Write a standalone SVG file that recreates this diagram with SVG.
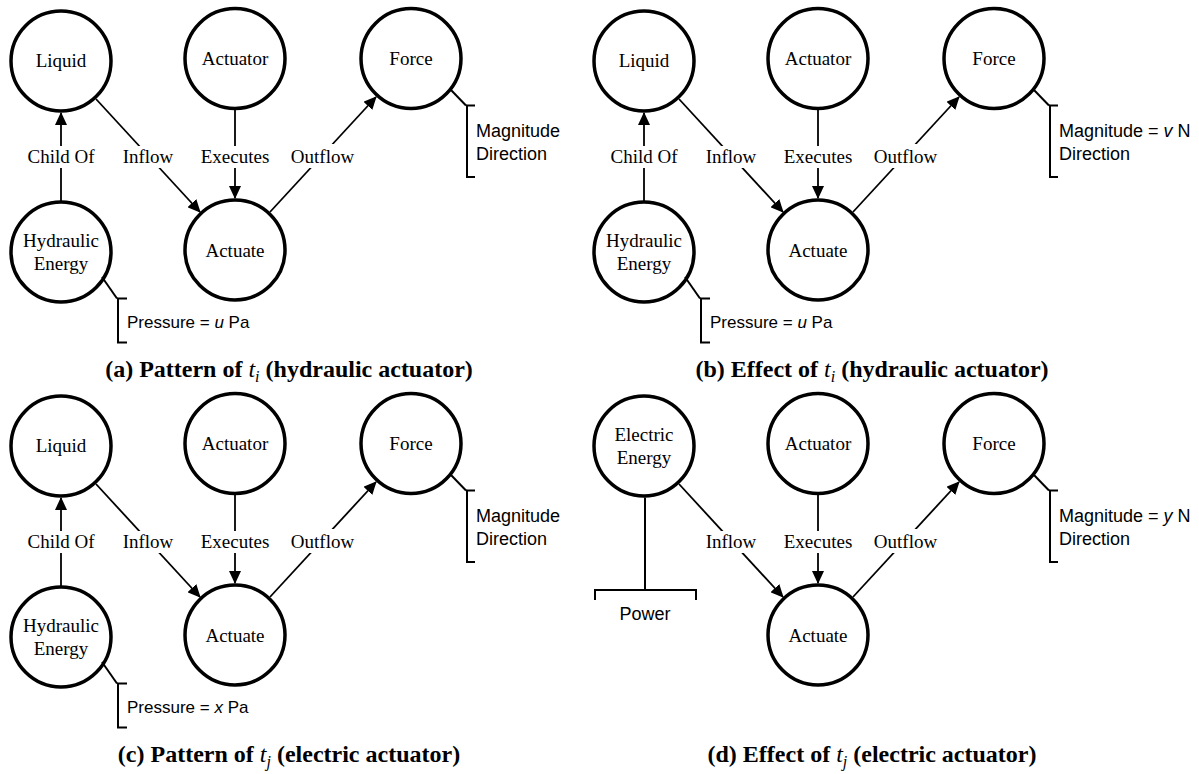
<svg xmlns="http://www.w3.org/2000/svg" width="1199" height="774" viewBox="0 0 1199 774">
<style>
.node circle{fill:#fff;stroke:#000;stroke-width:3.5}
.nl{font-family:"Liberation Serif","Times New Roman",serif;font-size:19px;text-anchor:middle;fill:#000}
.edge{stroke:#000;stroke-width:1.8;fill:none}
.lb{fill:#fff;stroke:none}
.br{stroke:#000;stroke-width:2;fill:none}
.bt{font-family:"Liberation Sans",Arial,sans-serif;font-size:18px;fill:#000}
.pt{font-family:"Liberation Sans",Arial,sans-serif;font-size:17px;fill:#000}
.cap{font-family:"Liberation Serif","Times New Roman",serif;font-size:24px;font-weight:bold;text-anchor:middle;fill:#000}
.mi{font-style:italic;font-weight:normal}
</style>
<defs>
<marker id="arr" markerUnits="userSpaceOnUse" markerWidth="13" markerHeight="12" refX="12" refY="6" orient="auto">
<path d="M0,0 L13,6 L0,12 z" fill="#000"/>
</marker>
</defs>

<!-- Panel (a) -->
<g id="panel-a">
<g id="a-connectors">
<line class="edge" x1="61" y1="201" x2="61" y2="113" marker-end="url(#arr)"/>
<line class="edge" x1="96" y1="99" x2="200" y2="212" marker-end="url(#arr)"/>
<line class="edge" x1="235" y1="110" x2="235" y2="198" marker-end="url(#arr)"/>
<line class="edge" x1="270" y1="212" x2="376" y2="97" marker-end="url(#arr)"/>
<rect class="lb" x="25" y="146" width="72" height="22"/><text class="nl" x="61" y="162.5">Child Of</text>
<rect class="lb" x="121" y="146" width="54" height="22"/><text class="nl" x="148" y="162.5">Inflow</text>
<rect class="lb" x="199" y="146" width="72" height="22"/><text class="nl" x="235" y="162.5">Executes</text>
<rect class="lb" x="289" y="144" width="67" height="24"/><text class="nl" x="322.5" y="162.5">Outflow</text>
</g>
<g id="a-liquid" class="node"><circle cx="61" cy="61" r="50"/><text class="nl" x="61" y="67">Liquid</text></g>
<g id="a-actuator" class="node"><circle cx="235" cy="58.5" r="50"/><text class="nl" x="235" y="65">Actuator</text></g>
<g id="a-force" class="node"><circle cx="411" cy="58.5" r="50"/><text class="nl" x="411" y="65">Force</text>
<line class="br" x1="451" y1="90" x2="466" y2="105.5"/><path class="br" d="M475,105.5 H467 V177 H475"/>
<text class="bt" x="476" y="137">Magnitude</text><text class="bt" x="476" y="160">Direction</text></g>
<g id="a-actuate" class="node"><circle cx="235" cy="250" r="50"/><text class="nl" x="235" y="256.5">Actuate</text></g>
<g id="a-hydraulic" class="node"><circle cx="61" cy="252" r="50"/><text class="nl" x="61" y="247">Hydraulic</text><text class="nl" x="61" y="270">Energy</text>
<line class="br" x1="102" y1="277" x2="117" y2="298.5"/><path class="br" d="M127,298.5 H118 V342.5 H127"/>
<text class="pt" x="127" y="328">Pressure = <tspan font-style="italic">u</tspan> Pa</text></g>
</g>

<!-- Panel (b) -->
<g id="panel-b" transform="translate(583,0)">
<g id="b-connectors">
<line class="edge" x1="61" y1="201" x2="61" y2="113" marker-end="url(#arr)"/>
<line class="edge" x1="96" y1="99" x2="200" y2="212" marker-end="url(#arr)"/>
<line class="edge" x1="235" y1="110" x2="235" y2="198" marker-end="url(#arr)"/>
<line class="edge" x1="270" y1="212" x2="376" y2="97" marker-end="url(#arr)"/>
<rect class="lb" x="25" y="146" width="72" height="22"/><text class="nl" x="61" y="162.5">Child Of</text>
<rect class="lb" x="121" y="146" width="54" height="22"/><text class="nl" x="148" y="162.5">Inflow</text>
<rect class="lb" x="199" y="146" width="72" height="22"/><text class="nl" x="235" y="162.5">Executes</text>
<rect class="lb" x="289" y="144" width="67" height="24"/><text class="nl" x="322.5" y="162.5">Outflow</text>
</g>
<g id="b-liquid" class="node"><circle cx="61" cy="61" r="50"/><text class="nl" x="61" y="67">Liquid</text></g>
<g id="b-actuator" class="node"><circle cx="235" cy="58.5" r="50"/><text class="nl" x="235" y="65">Actuator</text></g>
<g id="b-force" class="node"><circle cx="411" cy="58.5" r="50"/><text class="nl" x="411" y="65">Force</text>
<line class="br" x1="451" y1="90" x2="466" y2="105.5"/><path class="br" d="M475,105.5 H467 V177 H475"/>
<text class="bt" x="476" y="137">Magnitude = <tspan font-style="italic">v</tspan> N</text><text class="bt" x="476" y="160">Direction</text></g>
<g id="b-actuate" class="node"><circle cx="235" cy="250" r="50"/><text class="nl" x="235" y="256.5">Actuate</text></g>
<g id="b-hydraulic" class="node"><circle cx="61" cy="252" r="50"/><text class="nl" x="61" y="247">Hydraulic</text><text class="nl" x="61" y="270">Energy</text>
<line class="br" x1="102" y1="277" x2="117" y2="298.5"/><path class="br" d="M127,298.5 H118 V342.5 H127"/>
<text class="pt" x="127" y="328">Pressure = <tspan font-style="italic">u</tspan> Pa</text></g>
</g>

<!-- Panel (c) -->
<g id="panel-c" transform="translate(0,385)">
<g id="c-connectors">
<line class="edge" x1="61" y1="201" x2="61" y2="113" marker-end="url(#arr)"/>
<line class="edge" x1="96" y1="99" x2="200" y2="212" marker-end="url(#arr)"/>
<line class="edge" x1="235" y1="110" x2="235" y2="198" marker-end="url(#arr)"/>
<line class="edge" x1="270" y1="212" x2="376" y2="97" marker-end="url(#arr)"/>
<rect class="lb" x="25" y="146" width="72" height="22"/><text class="nl" x="61" y="162.5">Child Of</text>
<rect class="lb" x="121" y="146" width="54" height="22"/><text class="nl" x="148" y="162.5">Inflow</text>
<rect class="lb" x="199" y="146" width="72" height="22"/><text class="nl" x="235" y="162.5">Executes</text>
<rect class="lb" x="289" y="144" width="67" height="24"/><text class="nl" x="322.5" y="162.5">Outflow</text>
</g>
<g id="c-liquid" class="node"><circle cx="61" cy="61" r="50"/><text class="nl" x="61" y="67">Liquid</text></g>
<g id="c-actuator" class="node"><circle cx="235" cy="58.5" r="50"/><text class="nl" x="235" y="65">Actuator</text></g>
<g id="c-force" class="node"><circle cx="411" cy="58.5" r="50"/><text class="nl" x="411" y="65">Force</text>
<line class="br" x1="451" y1="90" x2="466" y2="105.5"/><path class="br" d="M475,105.5 H467 V177 H475"/>
<text class="bt" x="476" y="137">Magnitude</text><text class="bt" x="476" y="160">Direction</text></g>
<g id="c-actuate" class="node"><circle cx="235" cy="250" r="50"/><text class="nl" x="235" y="256.5">Actuate</text></g>
<g id="c-hydraulic" class="node"><circle cx="61" cy="252" r="50"/><text class="nl" x="61" y="247">Hydraulic</text><text class="nl" x="61" y="270">Energy</text>
<line class="br" x1="102" y1="277" x2="117" y2="298.5"/><path class="br" d="M127,298.5 H118 V342.5 H127"/>
<text class="pt" x="127" y="328">Pressure = <tspan font-style="italic">x</tspan> Pa</text></g>
</g>

<!-- Panel (d) -->
<g id="panel-d" transform="translate(583,385)">
<g id="d-connectors">
<line class="edge" x1="96" y1="99" x2="200" y2="212" marker-end="url(#arr)"/>
<line class="edge" x1="235" y1="110" x2="235" y2="198" marker-end="url(#arr)"/>
<line class="edge" x1="270" y1="212" x2="376" y2="97" marker-end="url(#arr)"/>
<rect class="lb" x="121" y="146" width="54" height="22"/><text class="nl" x="148" y="162.5">Inflow</text>
<rect class="lb" x="199" y="146" width="72" height="22"/><text class="nl" x="235" y="162.5">Executes</text>
<rect class="lb" x="289" y="144" width="67" height="24"/><text class="nl" x="322.5" y="162.5">Outflow</text>
</g>
<g id="d-electric" class="node"><circle cx="61" cy="61" r="50"/><text class="nl" x="61" y="56">Electric</text><text class="nl" x="61" y="79">Energy</text>
<line class="br" x1="62" y1="112.5" x2="62" y2="205"/><path class="br" d="M12,215 V205 H113 V215"/>
<text class="bt" x="62" y="235" text-anchor="middle">Power</text></g>
<g id="d-actuator" class="node"><circle cx="235" cy="58.5" r="50"/><text class="nl" x="235" y="65">Actuator</text></g>
<g id="d-force" class="node"><circle cx="411" cy="58.5" r="50"/><text class="nl" x="411" y="65">Force</text>
<line class="br" x1="451" y1="90" x2="466" y2="105.5"/><path class="br" d="M475,105.5 H467 V177 H475"/>
<text class="bt" x="476" y="137">Magnitude = <tspan font-style="italic">y</tspan> N</text><text class="bt" x="476" y="160">Direction</text></g>
<g id="d-actuate" class="node"><circle cx="235" cy="250" r="50"/><text class="nl" x="235" y="256.5">Actuate</text></g>
</g>

<!-- Captions -->
<g id="captions">
<text class="cap" x="289" y="377">(a) Pattern of <tspan class="mi">t</tspan><tspan class="mi" font-size="16" dy="5">i</tspan><tspan dy="-5"> (hydraulic actuator)</tspan></text>
<text class="cap" x="872" y="377">(b) Effect of <tspan class="mi">t</tspan><tspan class="mi" font-size="16" dy="5">i</tspan><tspan dy="-5"> (hydraulic actuator)</tspan></text>
<text class="cap" x="289" y="762">(c) Pattern of <tspan class="mi">t</tspan><tspan class="mi" font-size="16" dy="5">j</tspan><tspan dy="-5"> (electric actuator)</tspan></text>
<text class="cap" x="872" y="762">(d) Effect of <tspan class="mi">t</tspan><tspan class="mi" font-size="16" dy="5">j</tspan><tspan dy="-5"> (electric actuator)</tspan></text>
</g>
</svg>
